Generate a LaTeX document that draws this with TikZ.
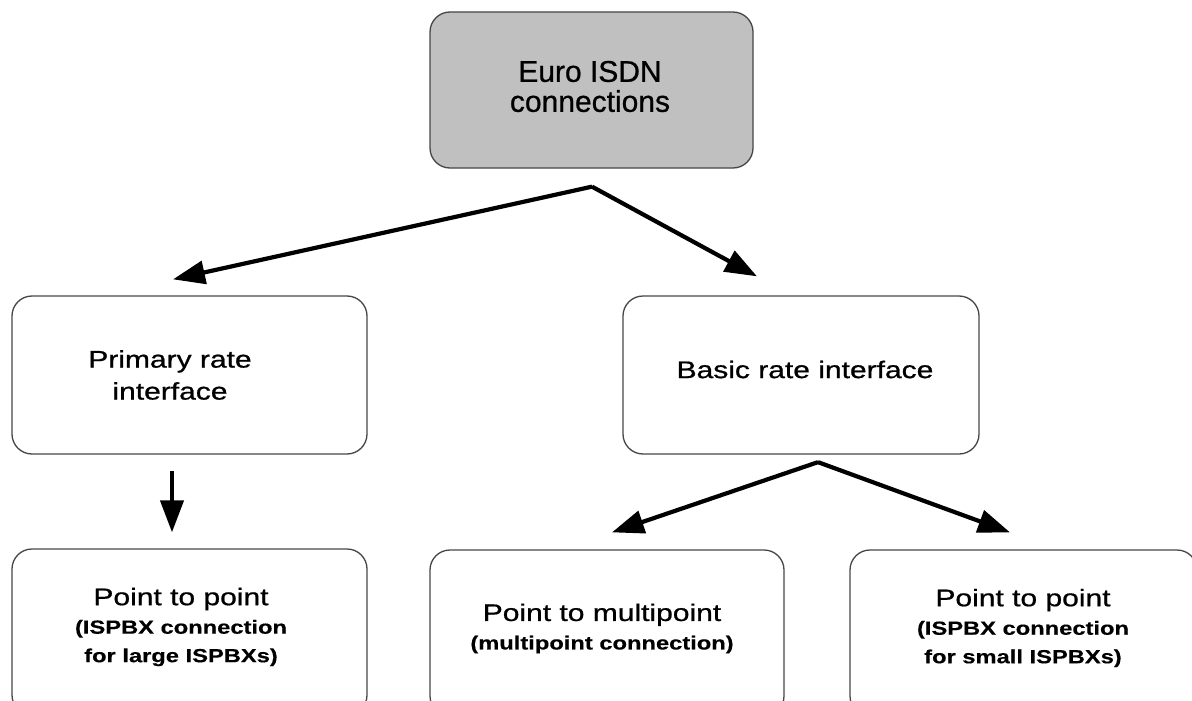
\documentclass[tikz,border=0pt]{standalone}
\usepackage{fontspec}
\setmainfont{Liberation Sans}
\newfontface\mainf{Liberation Sans}[FakeBold=0.7]
\newfontface\subff{Liberation Sans Bold}[FakeBold=0.3]
\usepackage{graphicx}
\usetikzlibrary{arrows.meta,calc}
\definecolor{topgray}{RGB}{192,192,192}
\definecolor{edgegray}{RGB}{70,70,70}
\newcommand\sqz[1]{\scalebox{1}[0.8]{#1}}
\newcommand\subf{\subff\fontsize{23.7}{28.5}\selectfont}
\begin{document}
\begin{tikzpicture}[x=1pt,y=-1pt,
  box/.style={draw=edgegray, line width=1.3pt, rounded corners=20pt, inner sep=0pt},
  txt/.style={inner sep=0pt, align=center, font=\mainf\fontsize{30}{28.5}\selectfont},
  arr/.style={line width=4.2pt, line join=round, -{Triangle[length=32pt,width=23pt]}}]
\useasboundingbox (0,0) rectangle (1192,701);
\clip (0,0) rectangle (1192,701);
% boxes
\node[box, fill=topgray, minimum width=323pt, minimum height=156pt] (top) at (591.5,90) {};
\node[box, minimum width=355pt, minimum height=158pt] (prim) at (189.5,375) {};
\node[box, minimum width=356pt, minimum height=158pt] (basic) at (801,375) {};
\node[box, minimum width=355pt, minimum height=166pt] (bl) at (189.5,632) {};
\node[box, minimum width=354pt, minimum height=166pt] (bm) at (607,633) {};
\node[box, minimum width=347pt, minimum height=166pt] (br) at (1023.5,633) {};
% texts
\node[txt] (topt) at (590,86.5) {Euro ISDN\\[1.5pt]connections};
\node[txt] (primt) at (170,375) {\sqz{Primary rate}\\[3.5pt]\sqz{interface}};
\node[txt] (basict) at (805,369.5) {\sqz{Basic rate interface}};
\node[txt] (blt) at (181,627) {\sqz{Point to point}\\{\subf\sqz{(ISPBX connection}}\\{\subf\sqz{for large ISPBXs)}}};
\node[txt] (bmt) at (602,628.5) {\sqz{Point to multipoint}\\{\subf\sqz{(multipoint connection)}}};
\node[txt] (brt) at (1023,628) {\sqz{Point to point}\\{\subf\sqz{(ISPBX connection}}\\{\subf\sqz{for small ISPBXs)}}};
% connectors
\coordinate (ap1) at ($(top.south)+(0.5,18)$);
\coordinate (ap2) at ($(basic.south)+(17,7.5)$);
\coordinate (dn) at ($(prim.south)+(-17.5,16)$);
\draw[arr] (ap1) -- ($(prim.north)+(-16.5,-16)$);
\draw[arr] (ap1) -- ($(basic.north)+(-44,-19)$);
\draw[arr] (ap2) -- ($(bm.north)+(5,-17)$);
\draw[arr] (ap2) -- ($(br.north)+(-13.5,-17)$);
\draw[arr] (dn) -- ($(bl.north)+(-17.5,-16)$);
\end{tikzpicture}
\end{document}
